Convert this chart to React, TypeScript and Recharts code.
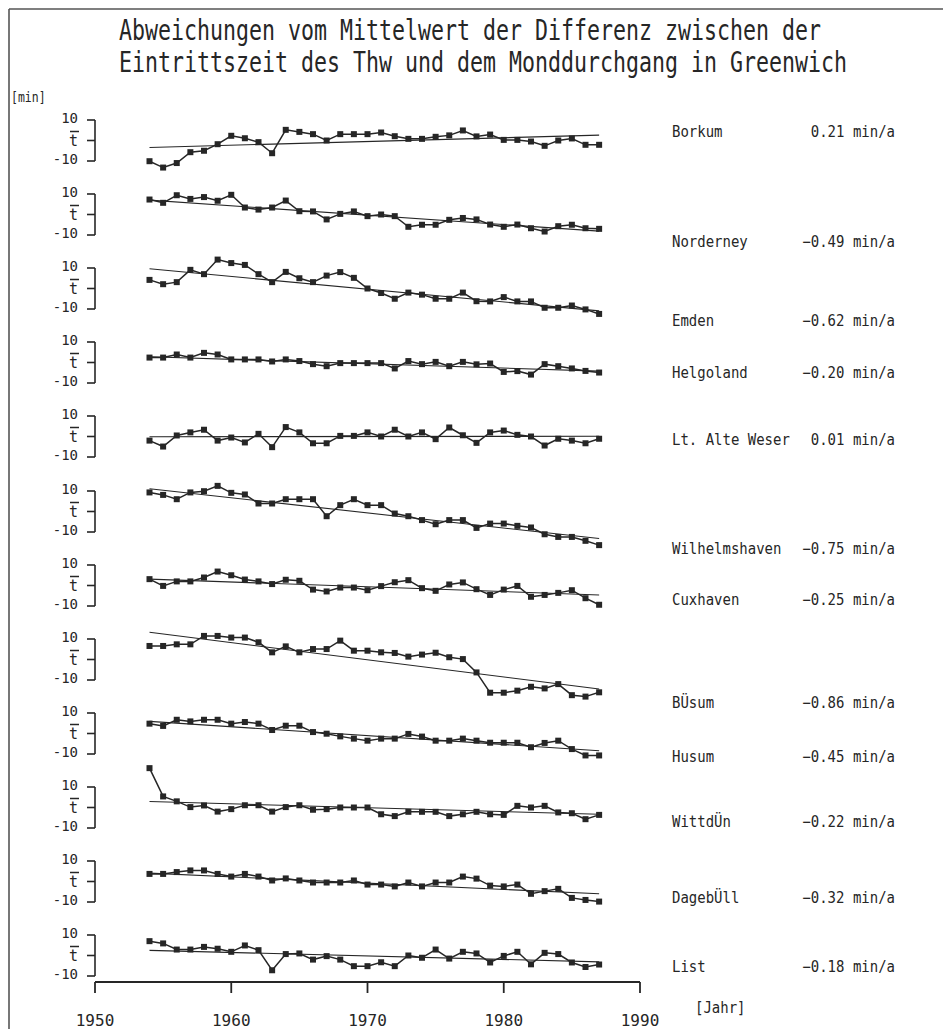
import React from 'react';
import { LineChart, Line, XAxis, YAxis } from 'recharts';

// years of the annual means
const YEARS = [
  1954, 1955, 1956, 1957, 1958, 1959, 1960, 1961, 1962, 1963, 1964, 1965,
  1966, 1967, 1968, 1969, 1970, 1971, 1972, 1973, 1974, 1975, 1976, 1977,
  1978, 1979, 1980, 1981, 1982, 1983, 1984, 1985, 1986, 1987,
];

const STATIONS = [
  'Borkum', 'Norderney', 'Emden', 'Helgoland', 'Lt. Alte Weser', 'Wilhelmshaven',
  'Cuxhaven', 'BÜsum', 'Husum', 'WittdÜn', 'DagebÜll', 'List',
];

const RATES = [
  '0.21', '−0.49', '−0.62', '−0.20', '0.01', '−0.75',
  '−0.25', '−0.86', '−0.45', '−0.22', '−0.32', '−0.18',
];

// deviations from the mean [min]
const BORKUM = [-10.1, -13.2, -11, -5.7, -5, -1.8, 2.3, 1.1, -0.8, -6.2, 5.2, 4.2, 3.1, 0, 3.1, 3.1, 3.1, 3.9, 2.1, 0.8, 0.8, 1.8, 2.5, 4.9, 2, 2.9, 0.3, 0.3, -0.5, -2.6, 0, 1, -2.1, -2.1];
const NORDERNEY = [7.3, 5.7, 9.4, 7.6, 8.5, 6.7, 9.6, 3.4, 2.4, 3.4, 6.8, 1.6, 1.5, -2.4, 0.3, 1.5, -0.8, 0, -0.8, -6, -5, -5, -2.6, -1.7, -2.4, -4.9, -6, -4.9, -6.7, -8.3, -5.7, -5, -6.7, -7];
const EMDEN = [4.2, 2.1, 3.1, 9.1, 7, 14.1, 12.4, 11.5, 7, 3.1, 8.1, 5, 3.1, 6.3, 8, 5.2, 0, -2.2, -5, -2, -3, -5, -5, -2, -6.2, -6.3, -4.2, -6.3, -6.3, -9.4, -9.4, -8.3, -10.2, -12.4];
const HELGOLAND = [2.4, 2.4, 3.9, 2.4, 4.7, 3.9, 1.5, 1.5, 1.5, 0.5, 1.5, 0.7, -0.8, -1.8, -0.3, -0.3, -0.3, -0.3, -2.9, 0.7, -0.8, 0.3, -1.8, 0.3, -0.9, -0.5, -4.6, -4.2, -5.9, -0.8, -1.8, -2.9, -4.1, -4.9];
const ALTE_WESER = [-2, -4.9, 0.5, 2, 3.3, -2, -0.5, -2.9, 1.3, -5.2, 4.6, 2, -3.3, -3.3, 0.3, 0.3, 2, 0, 3.3, 0, 2, -1.3, 4.4, 0.6, -3.1, 2, 2.9, 0.8, 0, -4.4, -1.1, -2, -3.3, -1.1];
const WILHELMSHAVEN = [9.3, 8.1, 6, 9.3, 9.9, 12.5, 9.1, 8.3, 3.9, 3.9, 6, 6, 6, -2.3, 3.1, 6, 3.1, 3.1, -1, -2.3, -4.2, -6.2, -4.2, -4.2, -8, -5.9, -5.9, -7, -7.8, -11.1, -12.4, -12.4, -14.3, -16.4];
const CUXHAVEN = [3.1, -0.2, 2, 2, 3.9, 6.8, 5, 2.9, 2, 0.7, 2.8, 2.3, -2, -2.9, -1, -1, -2.3, -0.3, 1.6, 2.6, -1.3, -2.6, 0.5, 1.5, -1.8, -4.6, -2, -0.2, -5.5, -4.6, -3.6, -2.3, -6.2, -9.4];
const BUESUM = [6.6, 6.6, 7.4, 7.4, 11.5, 11.5, 10.7, 10.7, 8.4, 3.5, 6.4, 3.5, 5.1, 5.1, 9.2, 4.3, 4.3, 3.5, 3.2, 1.4, 2.4, 3.3, 1.1, 0.2, -6.3, -16.2, -16.2, -15.2, -13.3, -14.1, -12, -17.4, -18.1, -16];
const HUSUM = [4.8, 3.7, 6.7, 5.9, 6.7, 6.7, 4.8, 5.6, 4.8, 1.7, 3.8, 3.8, 0.7, -0.1, -1.4, -2.5, -3.5, -2.5, -2.5, -0.2, -1.5, -3.5, -3.5, -2.5, -3.5, -4.5, -4.5, -4.5, -6.7, -4.6, -3.5, -7.6, -10.7, -10.7];
const WITTDUEN = [19.2, 5.4, 3, 0.2, 1, -2, -0.8, 1.1, 1.1, -2, 0.2, 1.1, -1.1, -0.8, 0, 0, 0, -3.3, -4.2, -2.1, -2.1, -2.1, -4.2, -3.3, -2.1, -3.3, -3.6, 0.8, 0, 0.8, -2.4, -2.8, -5.7, -3.6];
const DAGEBUELL = [3.7, 3.7, 4.6, 5.4, 5.4, 3.7, 2.4, 3.7, 2.4, 0.5, 1.5, 0.5, -0.5, -0.5, -0.5, 0.5, -1.5, -1.5, -2.4, -0.5, -2.4, -0.5, -0.5, 2.4, 1.4, -2, -2.4, -1.5, -6, -4.7, -3.6, -8, -9, -9.8];
const LIST = [7, 5.9, 2.9, 2.9, 4.2, 3.3, 1.8, 4.9, 2.6, -7.2, 0.7, 1, -2, -0.3, -2, -5.2, -5.2, -3.3, -5.2, 0, -1.1, 2.9, -1.5, 1.8, 1, -3.4, -0.2, 1.8, -4.3, 1.3, 0.7, -3.4, -5.6, -4.4];

const SERIES = [
  BORKUM, NORDERNEY, EMDEN, HELGOLAND, ALTE_WESER, WILHELMSHAVEN,
  CUXHAVEN, BUESUM, HUSUM, WITTDUEN, DAGEBUELL, LIST,
];

// linear trend at 1954 and at 1987 [min]
const TREND_START = [-3.4, 7, 9.6, 2.8, -0.1, 11.1, 3.1, 13.3, 5.9, 2.9, 4.1, 2.5];
const TREND_END = [2.6, -8.1, -10.9, -4.2, 0.1, -13.2, -4.6, -14.4, -8.4, -3.3, -6, -3.1];

const X_TICKS = [1950, 1960, 1970, 1980, 1990];
const Y_TICKS = [10, 0, -10];

// layout
const INK = '#262626';
const FONT = '"DejaVu Sans Mono", "Liberation Mono", monospace';
const PANEL_MID0 = 140.7;
const PANEL_STEP = 74.07;
const PLOT_H = 41;
const PAD = 30;
const CHART_W = 660;
const AXIS_W = 95;
const X_AXIS_Y = 982;
const LABEL_Y = [131.7, 241.7, 321, 373, 440, 549, 600, 702.7, 756.7, 821.7, 898.3, 966.7];

function SquareDot(props: any) {
  const { cx, cy, index } = props;
  if (cx == null || cy == null) return <g key={index} />;
  return <rect key={index} x={cx - 3} y={cy - 3} width={6} height={6} fill={INK} />;
}

function PanelTick({ x, y, payload }: any) {
  const v = payload.value;
  if (v === 0) {
    return (
      <g>
        <line x1={x - 8} x2={x + 1} y1={y - 9} y2={y - 9} stroke={INK} strokeWidth={1.5} />
        <text x={x} y={y + 5} textAnchor="end" fontFamily={FONT} fontSize={15} fill={INK}>
          t
        </text>
      </g>
    );
  }
  return (
    <text x={x} y={y + 3} textAnchor="end" fontFamily={FONT} fontSize={14} fill={INK}>
      {v}
    </text>
  );
}

function Panel({ index }: { index: number }) {
  const values = SERIES[index];
  const data = YEARS.map((year, i) => ({ year, v: values[i] }));
  const trend = [
    { year: YEARS[0], v: TREND_START[index] },
    { year: YEARS[YEARS.length - 1], v: TREND_END[index] },
  ];
  const top = PANEL_MID0 + PANEL_STEP * index - PLOT_H / 2 - PAD;

  return (
    <div style={{ position: 'absolute', left: 0, top }}>
      <LineChart
        width={CHART_W}
        height={PLOT_H + 2 * PAD}
        data={data}
        margin={{ top: PAD, bottom: PAD, left: 0, right: 20 }}
      >
        <XAxis type="number" dataKey="year" domain={[1950, 1990]} hide allowDataOverflow />
        <YAxis
          type="number"
          domain={[-10, 10]}
          ticks={Y_TICKS}
          interval={0}
          allowDataOverflow
          width={AXIS_W}
          tickSize={8}
          tickMargin={9}
          axisLine={{ stroke: INK, strokeWidth: 1.6 }}
          tickLine={{ stroke: INK, strokeWidth: 1.6 }}
          tick={<PanelTick />}
        />
        <Line
          data={trend}
          dataKey="v"
          stroke={INK}
          strokeWidth={1.1}
          dot={false}
          isAnimationActive={false}
        />
        <Line
          dataKey="v"
          stroke={INK}
          strokeWidth={1.5}
          dot={SquareDot}
          isAnimationActive={false}
        />
      </LineChart>
    </div>
  );
}

function YearAxis() {
  const data = YEARS.map((year, i) => ({ year, v: LIST[i] }));
  return (
    <div style={{ position: 'absolute', left: 0, top: X_AXIS_Y - 20 }}>
      <LineChart
        width={CHART_W}
        height={80}
        data={data}
        margin={{ top: 0, bottom: 0, left: AXIS_W, right: 20 }}
      >
        <XAxis
          type="number"
          dataKey="year"
          domain={[1950, 1990]}
          ticks={X_TICKS}
          interval={0}
          height={60}
          tickSize={11}
          tickMargin={22}
          axisLine={{ stroke: INK, strokeWidth: 1.8 }}
          tickLine={{ stroke: INK, strokeWidth: 1.8 }}
          tick={{ fontFamily: FONT, fontSize: 16, fill: INK }}
        />
        <YAxis hide domain={[-30, 30]} />
        <Line dataKey="v" stroke="none" dot={false} isAnimationActive={false} />
      </LineChart>
    </div>
  );
}

export default function App() {
  return (
    <div style={{ position: 'relative', width: 943, height: 1029, background: '#fff', overflow: 'hidden' }}>
      <style>{`
        body { margin: 0; }
        .recharts-line, .recharts-line-curve, .recharts-line-dots { clip-path: none !important; }
      `}</style>

      <svg
        width={943}
        height={1029}
        style={{ position: 'absolute', left: 0, top: 0, pointerEvents: 'none' }}
        fontFamily={FONT}
        fill={INK}
      >
        <line x1={9} y1={9} x2={943} y2={9} stroke="#555" strokeWidth={1.6} />
        <line x1={9} y1={9} x2={9} y2={1029} stroke="#555" strokeWidth={1.6} />
        <g transform="translate(119,40) scale(1,1.32)">
          <text x={0} y={0} fontSize={21.6}>
            Abweichungen vom Mittelwert der Differenz zwischen der
          </text>
        </g>
        <g transform="translate(119,72) scale(1,1.32)">
          <text x={0} y={0} fontSize={21.6}>
            Eintrittszeit des Thw und dem Monddurchgang in Greenwich
          </text>
        </g>
        <g transform="translate(11,102) scale(1,1.25)">
          <text x={0} y={0} fontSize={11.5}>
            [min]
          </text>
        </g>
        {STATIONS.map((name, i) => (
          <g key={name} transform={`translate(0,${LABEL_Y[i] + 5}) scale(1,1.1)`}>
            <text x={672} y={0} fontSize={14}>
              {name}
            </text>
            <text x={895} y={0} fontSize={14} textAnchor="end">
              {RATES[i]} min/a
            </text>
          </g>
        ))}
        <g transform="translate(695,1013) scale(1,1.1)">
          <text x={0} y={0} fontSize={14}>
            [Jahr]
          </text>
        </g>
      </svg>

      {STATIONS.map((name, i) => (
        <Panel key={name} index={i} />
      ))}
      <YearAxis />
    </div>
  );
}
